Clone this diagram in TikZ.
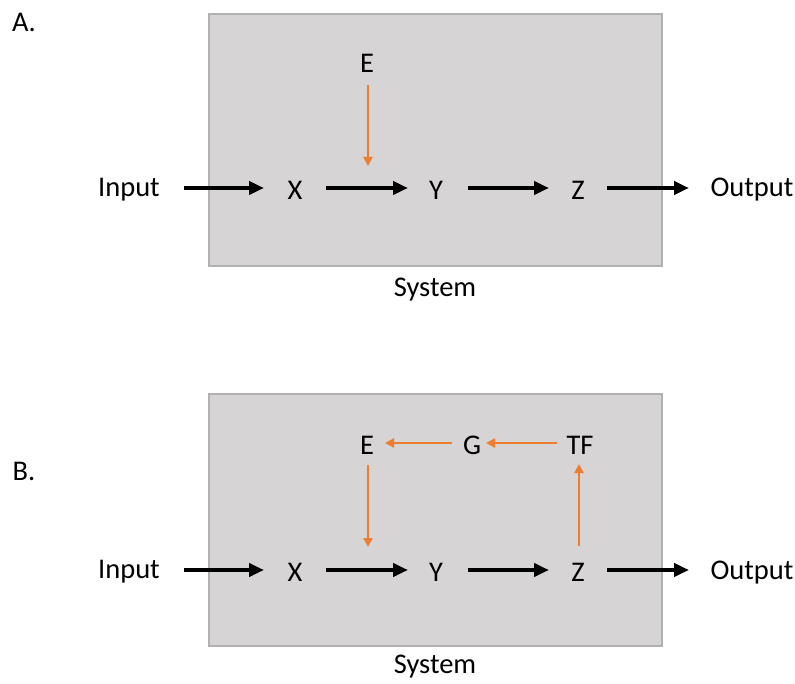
\documentclass[tikz,border=0pt]{standalone}
\usepackage{fontspec}
\setmainfont{Carlito}
\usetikzlibrary{arrows.meta}
\definecolor{sysgrey}{HTML}{D6D4D5}
\definecolor{sysedge}{HTML}{B2B0B1}
\definecolor{fborange}{HTML}{ED7D31}
\begin{document}
\begin{tikzpicture}[x=1pt,y=-1pt,
  lbl/.style={inner sep=0pt,font=\fontsize{28.5}{31}\selectfont},
  sysbox/.style={fill=sysgrey,draw=sysedge,line width=1.5pt},
  flow/.style={line width=4pt,-{Triangle[length=15pt,width=13pt]}},
  fb/.style={fborange,line width=2.2pt,-{Triangle[length=9pt,width=9pt]}}]
\useasboundingbox (0,0) rectangle (795,684);

% ---- A: open loop ----
\node[lbl] (labA) at (24,22) {A.};
\draw[sysbox] (209,14) rectangle (662,266);
\node[lbl] (sysA) at (435,290) {System};
\node[lbl] (inA) at (129,190) {Input};
\node[lbl] (xA) at (295,190) {X};
\node[lbl] (yA) at (436,190) {Y};
\node[lbl] (zA) at (578,190) {Z};
\node[lbl] (outA) at (752,190) {Output};
\node[lbl] (eA) at (367,63) {E};
\coordinate (eAend) at (368,166);
\draw[flow] (184,188) -- (264,188);
\draw[flow] (326,188) -- (408,188);
\draw[flow] (468,188) -- (549,188);
\draw[flow] (607,188) -- (689,188);
\draw[fb] (368,85) -- (eAend);

% ---- B: with feedback ----
\node[lbl] (labB) at (24,471) {B.};
\draw[sysbox] (209,394) rectangle (662,646);
\node[lbl] (sysB) at (435,667) {System};
\node[lbl] (inB) at (129,572) {Input};
\node[lbl] (xB) at (295,572) {X};
\node[lbl] (yB) at (436,572) {Y};
\node[lbl] (zB) at (578,572) {Z};
\node[lbl] (outB) at (752,573) {Output};
\node[lbl] (eB) at (367,445) {E};
\node[lbl] (gB) at (472,445) {G};
\node[lbl] (tfB) at (580,445) {TF};
\draw[flow] (184,570) -- (264,570);
\draw[flow] (326,570) -- (408,570);
\draw[flow] (468,570) -- (549,570);
\draw[flow] (607,570) -- (689,570);
\draw[fb] (368,465) -- (368,547);
\draw[fb] (579,546) -- (579,464);
\draw[fb] (557,443) -- (486,443);
\draw[fb] (452,443) -- (385,443);
\end{tikzpicture}
\end{document}
